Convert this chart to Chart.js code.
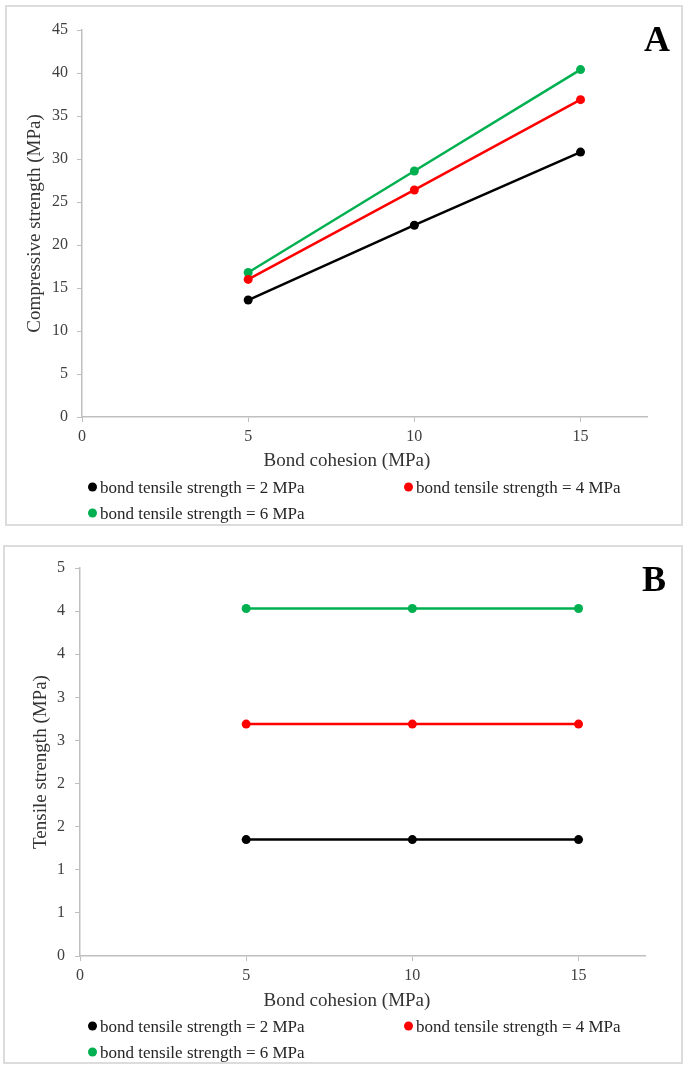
<!DOCTYPE html>
<html>
<head>
<meta charset="utf-8">
<script src="https://cdn.jsdelivr.net/npm/chart.js@4/dist/chart.umd.min.js"></script>
<style>
  body { margin: 0; background: #fff; width: 686px; height: 1072px; position: relative; overflow: hidden;
         font-family: "Liberation Serif", "Times New Roman", serif; }
  canvas { position: absolute; left: 0; }
  .frame { position: absolute; border: 2px solid #dcdcdc; box-sizing: border-box; pointer-events: none; }
  .letter { position: absolute; font-weight: bold; font-size: 36px; color: #000; line-height: 1; }
  .xtitle { position: absolute; font-size: 19px; color: #333; transform: translate(-50%, -50%); white-space: nowrap; }
  .legend-item { position: absolute; font-size: 17px; color: #262626; white-space: nowrap; line-height: 1;
                 transform: translateY(-50%); display: flex; align-items: center; }
  .legend-item i { display: inline-block; width: 9px; height: 9px; border-radius: 50%; margin-right: 3px; }
</style>
</head>
<body>
<div class="frame" style="left:5px;top:5px;width:678px;height:521px;"></div>
<div class="frame" style="left:3px;top:545px;width:680px;height:519px;"></div>
<canvas id="chartA" width="686" height="530" style="top:0px"></canvas>
<canvas id="chartB" width="686" height="536" style="top:536px"></canvas>
<div class="letter" style="left:644px;top:21px;">A</div>
<div class="letter" style="left:642px;top:561px;">B</div>
<div class="xtitle" style="left:347px;top:460px;">Bond cohesion (MPa)</div>
<div class="xtitle" style="left:347px;top:1000px;">Bond cohesion (MPa)</div>
<div id="legendA"></div>
<div id="legendB"></div>
<script>
// Bond cohesion (MPa) on the horizontal axis
const bondCohesion = [5, 10, 15];
const xTickValues = [0, 5, 10, 15];

// Series names and colours (one per bond tensile strength)
const seriesNames = [
  'bond tensile strength = 2 MPa',
  'bond tensile strength = 4 MPa',
  'bond tensile strength = 6 MPa'
];
const seriesColors = ['#000000', '#ff0000', '#00b050'];

// Panel A: compressive strength (MPa)
const compressiveBts2 = [13.6, 22.3, 30.8];
const compressiveBts4 = [16.0, 26.4, 36.9];
const compressiveBts6 = [16.8, 28.6, 40.4];
const yTicksA = [0, 5, 10, 15, 20, 25, 30, 35, 40, 45];

// Panel B: tensile strength (MPa)
const tensileBts2 = [1.35, 1.35, 1.35];
const tensileBts4 = [2.69, 2.69, 2.69];
const tensileBts6 = [4.03, 4.03, 4.03];
const yTicksB = [0, 0.5, 1, 1.5, 2, 2.5, 3, 3.5, 4, 4.5];
const yTickLabelsB = ['0', '1', '1', '2', '2', '3', '3', '4', '4', '5'];

const AXIS_GREY = '#bfbfbf';
const TICK_TEXT = '#404040';
const SERIF = '"Liberation Serif", "Times New Roman", serif';

function makeDatasets(seriesList) {
  return seriesList.map((vals, i) => ({
    label: seriesNames[i],
    data: bondCohesion.map((x, j) => ({ x: x, y: vals[j] })),
    borderColor: seriesColors[i],
    backgroundColor: seriesColors[i],
    borderWidth: 2.5,
    pointRadius: 4.5,
    pointHoverRadius: 4.5,
    pointBorderWidth: 0,
    tension: 0
  }));
}

function makeChart(id, datasets, cfg) {
  return new Chart(document.getElementById(id), {
    type: 'line',
    data: { datasets: datasets },
    options: {
      responsive: false,
      animation: false,
      devicePixelRatio: 1,
      layout: { padding: { left: 0, top: cfg.padTop, right: cfg.padRight, bottom: 0 } },
      plugins: { legend: { display: false }, tooltip: { enabled: false } },
      scales: {
        x: {
          type: 'linear',
          min: 0,
          max: 17,
          afterBuildTicks: (s) => { s.ticks = xTickValues.map(v => ({ value: v })); },
          afterFit: (s) => { s.height = cfg.xHeight; },
          grid: { drawOnChartArea: false, drawTicks: true, tickLength: 5, color: AXIS_GREY, lineWidth: 1 },
          border: { color: AXIS_GREY, width: 1.5 },
          ticks: { color: TICK_TEXT, padding: 5, maxRotation: 0, font: { family: SERIF, size: 16 } }
        },
        y: {
          min: 0,
          max: cfg.yMax,
          afterBuildTicks: (s) => { s.ticks = cfg.yTicks.map(v => ({ value: v })); },
          afterFit: (s) => { s.width = cfg.yWidth; },
          grid: { drawOnChartArea: false, drawTicks: true, tickLength: 5, color: AXIS_GREY, lineWidth: 1 },
          border: { color: AXIS_GREY, width: 1.5 },
          ticks: {
            color: TICK_TEXT,
            padding: cfg.yTickPad,
            font: { family: SERIF, size: 16 },
            callback: cfg.yLabel
          },
          title: {
            display: true,
            text: cfg.yTitle,
            color: '#333',
            font: { family: SERIF, size: 19 },
            padding: { top: cfg.yTitlePad, bottom: 0 }
          }
        }
      }
    }
  });
}

makeChart('chartA', makeDatasets([compressiveBts2, compressiveBts4, compressiveBts6]), {
  padTop: 30, padRight: 39, xHeight: 113, yWidth: 82, yMax: 45, yTicks: yTicksA,
  yTickPad: 9, yTitlePad: 24, yTitle: 'Compressive strength (MPa)',
  yLabel: (v) => String(v)
});

makeChart('chartB', makeDatasets([tensileBts2, tensileBts4, tensileBts6]), {
  padTop: 32, padRight: 41, xHeight: 116, yWidth: 80, yMax: 4.5, yTicks: yTicksB,
  yTickPad: 10, yTitlePad: 30, yTitle: 'Tensile strength (MPa)',
  yLabel: (v, i) => yTickLabelsB[i]
});

// Two-column legend under each panel
function buildLegend(id, rowY) {
  const host = document.getElementById(id);
  const spots = [[88, rowY[0]], [404, rowY[0]], [88, rowY[1]]];
  seriesNames.forEach((name, i) => {
    const el = document.createElement('div');
    el.className = 'legend-item';
    el.style.left = spots[i][0] + 'px';
    el.style.top = spots[i][1] + 'px';
    el.innerHTML = '<i style="background:' + seriesColors[i] + '"></i>' + name;
    host.appendChild(el);
  });
}
buildLegend('legendA', [487, 513]);
buildLegend('legendB', [1026, 1052]);
</script>
</body>
</html>
